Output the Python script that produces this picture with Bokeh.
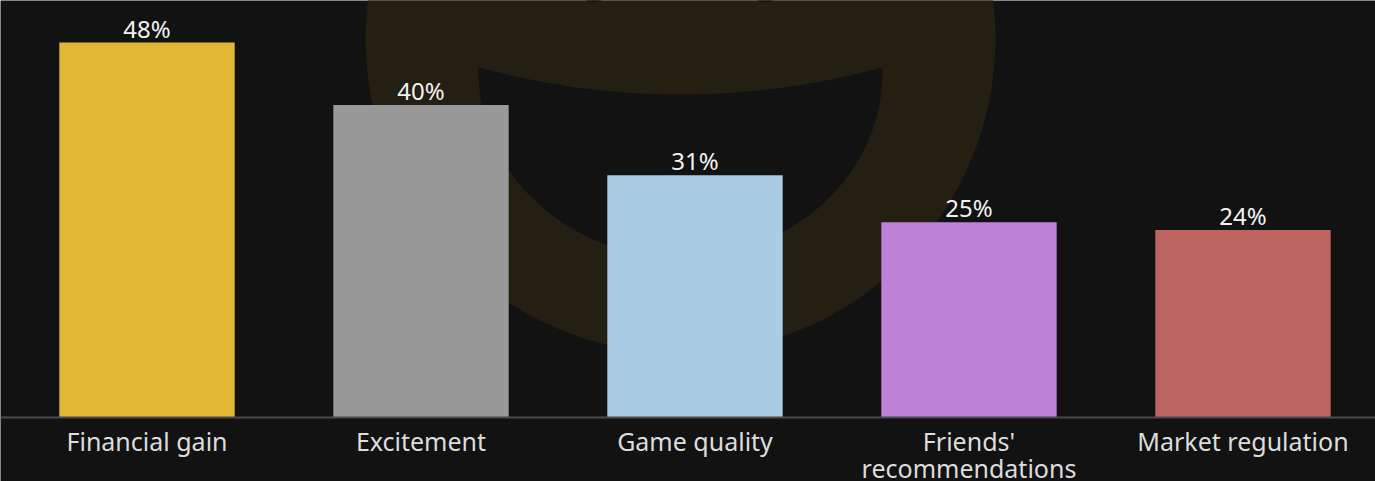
import numpy as np
from bokeh.plotting import figure
from bokeh.models import ColumnDataSource, LabelSet, Range1d, Span
from bokeh.core.properties import value
from bokeh.embed import file_html
from bokeh.resources import INLINE

# ---- data ----
categories = ["Financial gain", "Excitement", "Game quality", "Friends' recommendations", "Market regulation"]
label_line1 = ["Financial gain", "Excitement", "Game quality", "Friends'", "Market regulation"]
label_line2 = ["", "", "", "recommendations", ""]
values = [48, 40, 31, 25, 24]
value_labels = ["48%", "40%", "31%", "25%", "24%"]
colors = ["#E3B736", "#999999", "#ABCDE3", "#BD82D8", "#BC6461"]

BG = "#121212"
FONT = "Noto Sans"

W, H = 1375, 481

xpos = [i + 0.5 for i in range(len(categories))]

p = figure(x_range=Range1d(-0.0347, 4.9836), y_range=Range1d(-8.192, 53.376),
           width=W, height=H, output_backend="svg", toolbar_location=None,
           x_axis_location=None, y_axis_location=None,
           min_border_left=0, min_border_right=0, min_border_top=0,
           min_border_bottom=0)
p.background_fill_color = BG
p.border_fill_color = BG
p.outline_line_color = None
p.xgrid.visible = False
p.ygrid.visible = False

# ---- decorative watermark (pixel space) ----
p.extra_x_ranges = {"px": Range1d(0, W)}
p.extra_y_ranges = {"py": Range1d(H, 0)}
WM = "#231F13"
cx, cy, r = 680, 38, 315
t = np.linspace(0, 2 * np.pi, 200)
p.patch(cx + r * np.cos(t), cy + r * np.sin(t), fill_color=WM, line_color=None,
        x_range_name="px", y_range_name="py")
# mouth
xl, xr, xm = 477, 882, 680
top_x = np.linspace(xl, xr, 60)
top_y = 67 + 27 * (1 - ((top_x - xm) / (xr - xm)) ** 2)
ang = np.linspace(0, np.pi, 80)
bot_x = xm + (xr - xm) * np.cos(ang)
bot_y = 72 + 185 * np.sin(ang)
mx = np.concatenate([top_x, bot_x])
my = np.concatenate([top_y, bot_y])
p.patch(mx, my, fill_color=BG, line_color=None, x_range_name="px", y_range_name="py")
# eyes
for ex in (593, 765):
    p.ellipse(x=ex, y=-30, width=46, height=64, fill_color=BG, line_color=None,
              x_range_name="px", y_range_name="py")

# ---- bars ----
src = ColumnDataSource(dict(x=xpos, l1=label_line1, l2=label_line2, zero=[0] * len(xpos),
                            val=values, lab=value_labels, col=colors))
p.vbar(x="x", top="val", width=0.64, fill_color="col", line_color=None, source=src)

labels = LabelSet(x="x", y="val", text="lab", source=src, text_align="center",
                  text_baseline="alphabetic", y_offset=5, text_color="#F2F2F2",
                  text_font=value(FONT), text_font_size="24px")
p.add_layout(labels)

# ---- baseline (axis line) + category labels ----
p.add_layout(Span(location=0, dimension="width", line_color="#4A4A4A", line_width=2))

for col, off in (("l1", -33), ("l2", -60)):
    p.add_layout(LabelSet(x="x", y="zero", text=col, source=src, text_align="center",
                          text_baseline="alphabetic", y_offset=off, text_color="#DDDDDD",
                          text_font=value(FONT), text_font_size="25px"))

html = file_html(p, INLINE)
html = html.replace("<body>", '<body style="margin:0;background:#121212;">', 1)
open("out.html", "w").write(html)
